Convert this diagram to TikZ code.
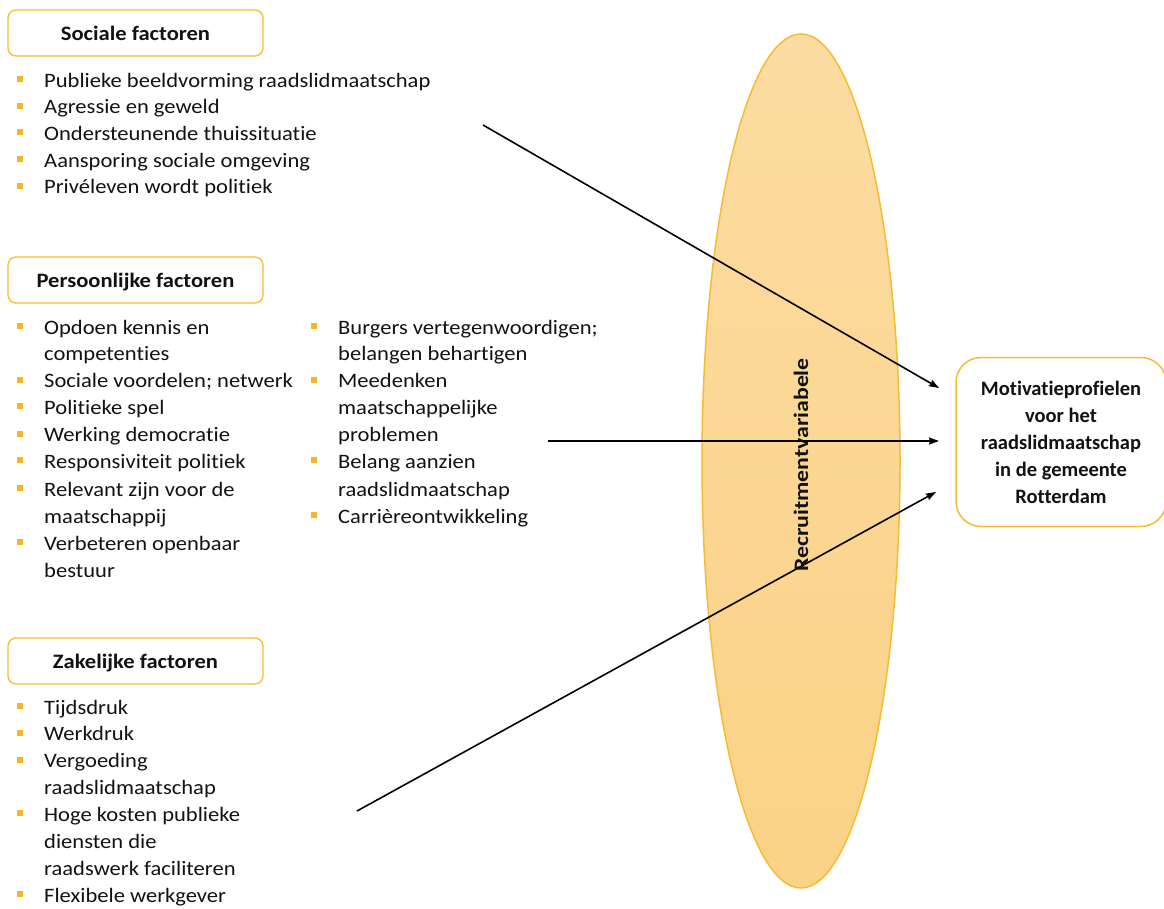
\documentclass[tikz,border=0pt]{standalone}
\usepackage{fontspec}
\setmainfont{Carlito}[Ligatures=NoCommon,FakeStretch=1.1]
\newfontfamily\boxfont{Carlito}[Ligatures=NoCommon]
\newfontfamily\rotfont{Carlito}[Ligatures=NoCommon,FakeStretch=1.16]
\usetikzlibrary{shapes.geometric,arrows.meta}
\definecolor{orng}{RGB}{247,187,50}
\definecolor{bulc}{RGB}{246,180,40}
\definecolor{ellA}{RGB}{252,220,162}
\definecolor{ellB}{RGB}{251,210,134}
\definecolor{txt}{RGB}{18,18,18}
\newcommand\bitm[4]{%
  \fill[bulc] ({#2-27},{#3-11}) rectangle ({#2-21},{#3-5});
  \node[itm] (#1) at (#2,#3) {#4};}
\begin{document}
\begin{tikzpicture}[x=1pt,y=-1pt,
  itm/.style={anchor=base west,inner sep=0pt,text=txt,font=\fontsize{20.5}{26}\selectfont},
  hdr/.style={draw=orng,line width=1.3pt,rounded corners=8pt,fill=white,
    minimum width=255pt,minimum height=46pt,inner sep=0pt,text height=15pt,text depth=0pt,
    text=txt,font=\bfseries\fontsize{20.5}{24}\selectfont},
  mot/.style={draw=orng,line width=1.5pt,rounded corners=25pt,fill=white,
    minimum width=210pt,minimum height=169pt,inner sep=0pt,align=center,
    text=txt,font=\boxfont\bfseries\fontsize{20.5}{27}\selectfont},
  arr/.style={line width=1.6pt,-{Stealth[length=10pt,width=7pt,inset=1pt]}}]
\useasboundingbox (0,0) rectangle (1164,908);
% ellipse
\node[ellipse,draw=orng,line width=1.5pt,top color=ellA,bottom color=ellB,
  minimum width=198pt,minimum height=854pt,inner sep=0pt] (ell) at (801,461) {};
\node[rotate=90,anchor=base,inner sep=0pt,text=txt,font=\rotfont\bfseries\fontsize{20.5}{24}\selectfont]
  (rv) at (808,465) {Recruitmentvariabele};
% headers
\node[hdr] (soc) at (135.5,33) {Sociale factoren};
\node[hdr] (pers) at (135.5,280) {Persoonlijke factoren};
\node[hdr] (zak) at (135.5,661) {Zakelijke factoren};
% right box
\node[mot] (mot) at (1061,442) {Motivatieprofielen\\voor het\\raadslidmaatschap\\in de gemeente\\Rotterdam};
% sociale
\bitm{s1}{44}{87}{Publieke beeldvorming raadslidmaatschap}
\bitm{s2}{44}{113.7}{Agressie en geweld}
\bitm{s3}{44}{140.4}{Ondersteunende thuissituatie}
\bitm{s4}{44}{167.1}{Aansporing sociale omgeving}
\bitm{s5}{44}{193.8}{Privéleven wordt politiek}
% persoonlijke left
\bitm{p1}{44}{334}{Opdoen kennis en}
\node[itm] (p1b) at (44,360) {competenties};
\bitm{p2}{44}{387.5}{Sociale voordelen; netwerk}
\bitm{p3}{44}{414}{Politieke spel}
\bitm{p4}{44}{441.5}{Werking democratie}
\bitm{p5}{44}{468}{Responsiviteit politiek}
\bitm{p6}{44}{496}{Relevant zijn voor de}
\node[itm] (p6b) at (44,523) {maatschappij};
\bitm{p7}{44}{550}{Verbeteren openbaar}
\node[itm] (p7b) at (44,577) {bestuur};
% persoonlijke right
\bitm{q1}{338}{334}{Burgers vertegenwoordigen;}
\node[itm] (q1b) at (338,360) {belangen behartigen};
\bitm{q2}{338}{387.5}{Meedenken}
\node[itm] (q2b) at (338,414) {maatschappelijke};
\node[itm] (q2c) at (338,441.5) {problemen};
\bitm{q3}{338}{468}{Belang aanzien}
\node[itm] (q3b) at (338,496) {raadslidmaatschap};
\bitm{q4}{338}{523}{Carrièreontwikkeling}
% zakelijke
\bitm{z1}{44}{714}{Tijdsdruk}
\bitm{z2}{44}{740.5}{Werkdruk}
\bitm{z3}{44}{767.5}{Vergoeding}
\node[itm] (z3b) at (44,794) {raadslidmaatschap};
\bitm{z4}{44}{821}{Hoge kosten publieke}
\node[itm] (z4b) at (44,848) {diensten die};
\node[itm] (z4c) at (44,875.5) {raadswerk faciliteren};
\bitm{z5}{44}{902}{Flexibele werkgever}
% arrows
\coordinate (a1s) at (483,125); \coordinate (a1e) at (939,388);
\coordinate (a2s) at (548,441); \coordinate (a2e) at (939,441);
\coordinate (a3s) at (357,811); \coordinate (a3e) at (936,492);
\draw[arr] (a1s) -- (a1e);
\draw[arr] (a2s) -- (a2e);
\draw[arr] (a3s) -- (a3e);
\end{tikzpicture}
\end{document}
